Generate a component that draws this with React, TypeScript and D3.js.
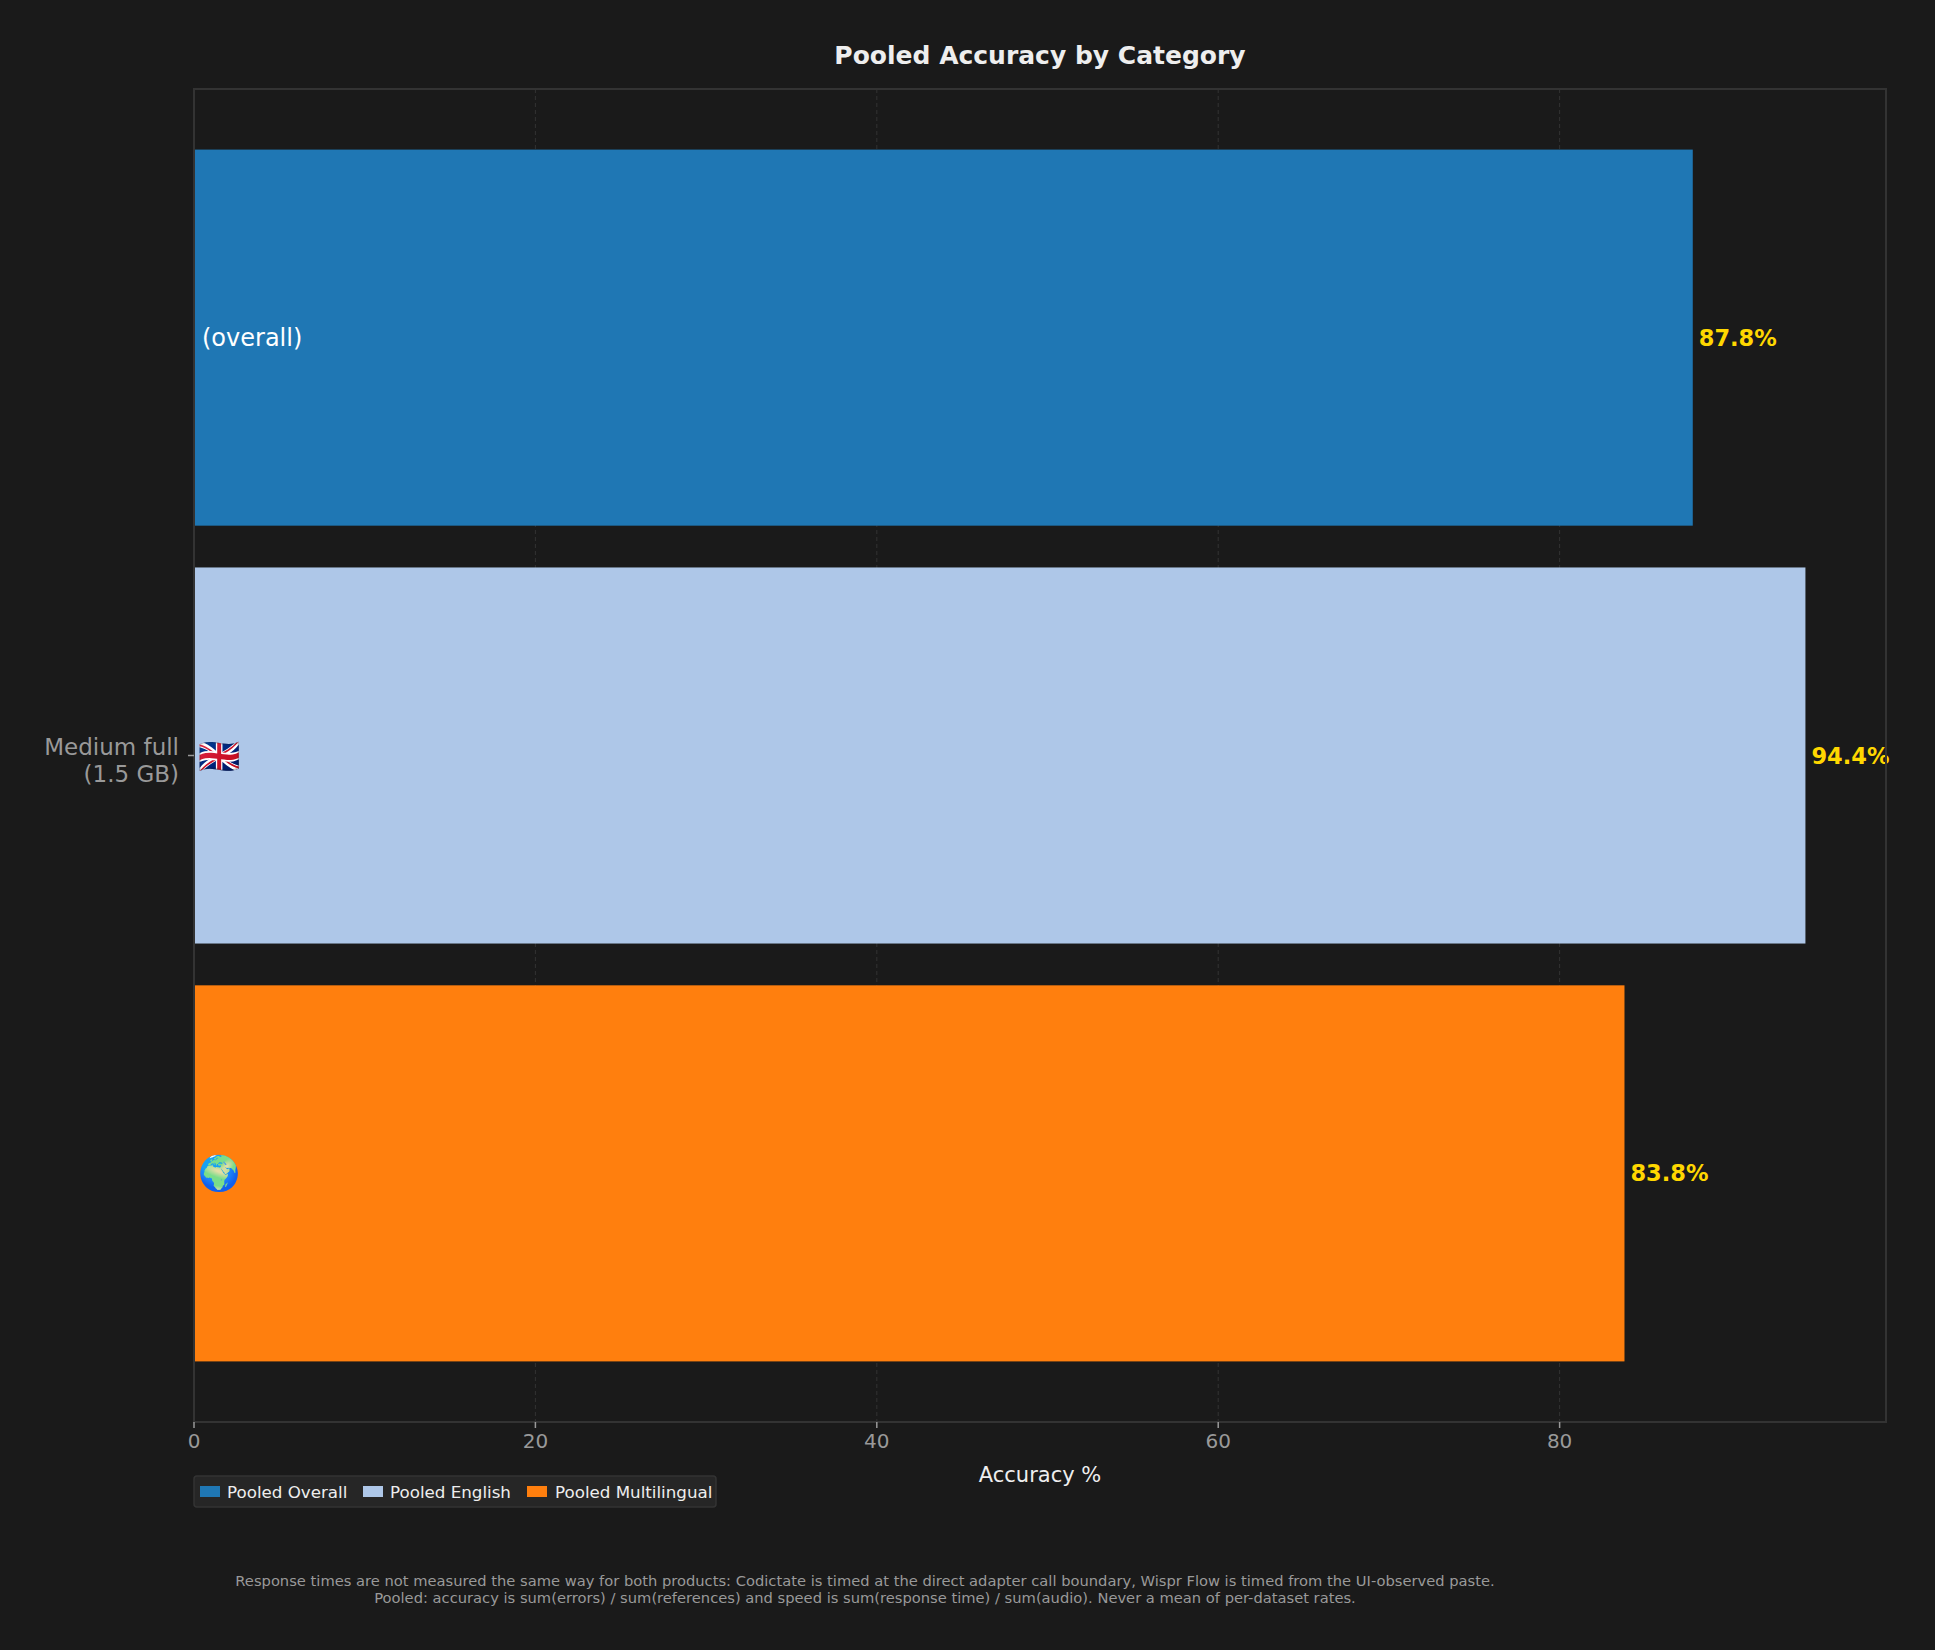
import { scaleLinear, scaleBand, max } from 'd3';

// chart data
const modelLabel = ['Medium full', '(1.5 GB)'];
const seriesNames = ['Pooled Overall', 'Pooled English', 'Pooled Multilingual'];
const seriesValues = [87.8, 94.4, 83.8];
const seriesColors = ['#1f77b4', '#aec7e8', '#ff7f0e'];
const inBarLabels = ['(overall)', '🇬🇧', '🌍'];
const xTicks = [0, 20, 40, 60, 80];
const footnotes = [
  'Response times are not measured the same way for both products: Codictate is timed at the direct adapter call boundary, Wispr Flow is timed from the UI-observed paste.',
  'Pooled: accuracy is sum(errors) / sum(references) and speed is sum(response time) / sum(audio). Never a mean of per-dataset rates.',
];

const W = 1935;
const H = 1650;
const margin = { top: 89, right: 49, bottom: 228, left: 194 };
const font = '"DejaVu Sans", Verdana, sans-serif';
const emojiFont = '"Noto Color Emoji", "Apple Color Emoji", "Segoe UI Emoji", ' + font;
const bg = '#1a1a1a';
const spine = '#333333';

export default function App() {
  const x = scaleLinear()
    .domain([0, (max(seriesValues) || 100) * 1.05])
    .range([margin.left, W - margin.right]);

  const y = scaleBand<string>()
    .domain(seriesNames)
    .range([margin.top, H - margin.bottom])
    .paddingInner(0.1)
    .paddingOuter(0.145);

  const top = margin.top;
  const bottom = H - margin.bottom;
  const left = margin.left;
  const right = W - margin.right;
  const midY = (top + bottom) / 2;
  const midX = (left + right) / 2;

  // legend layout
  const legendItems = [
    { x: 200, tx: 227 },
    { x: 363, tx: 390 },
    { x: 527, tx: 555 },
  ];

  return (
    <svg
      width={W}
      height={H}
      style={{ position: 'absolute', left: 0, top: 0, background: bg, fontFamily: font }}
    >
      <rect x={0} y={0} width={W} height={H} fill={bg} />

      <text x={midX} y={55} fill="#eeeeee" fontSize={25} fontWeight="bold" textAnchor="middle" dominantBaseline="central">
        Pooled Accuracy by Category
      </text>

      {/* grid */}
      {xTicks.map((t) => (
        <line key={'g' + t} x1={x(t)} x2={x(t)} y1={top} y2={bottom} stroke="#333333" strokeWidth={1} strokeDasharray="4,3" />
      ))}

      {/* bars */}
      {seriesNames.map((s, i) => (
        <rect key={s} x={x(0)} y={y(s)} width={x(seriesValues[i]) - x(0)} height={y.bandwidth()} fill={seriesColors[i]} />
      ))}

      {/* labels inside bars */}
      {seriesNames.map((s, i) => (
        <text
          key={'in' + s}
          x={x(0) + (i === 0 ? 8 : 4)}
          y={(y(s) || 0) + y.bandwidth() / 2}
          fill="#ffffff"
          fontSize={i === 0 ? 24 : 34}
          dominantBaseline="central"
          fontFamily={i === 0 ? font : emojiFont}
        >
          {inBarLabels[i]}
        </text>
      ))}

      {/* value labels */}
      {seriesNames.map((s, i) => (
        <text
          key={'v' + s}
          x={x(seriesValues[i]) + 6}
          y={(y(s) || 0) + y.bandwidth() / 2}
          fill="#ffd700"
          fontSize={22.5}
          fontWeight="bold"
          dominantBaseline="central"
        >
          {seriesValues[i].toFixed(1)}%
        </text>
      ))}

      {/* frame */}
      <rect x={left} y={top} width={right - left} height={bottom - top} fill="none" stroke={spine} strokeWidth={2} />

      {/* x axis ticks */}
      {xTicks.map((t) => (
        <g key={'t' + t}>
          <line x1={x(t)} x2={x(t)} y1={bottom} y2={bottom + 6} stroke="#999999" strokeWidth={1.5} />
          <text x={x(t)} y={bottom + 19} fill="#999999" fontSize={20} textAnchor="middle" dominantBaseline="central">
            {t}
          </text>
        </g>
      ))}
      <text x={midX} y={1475} fill="#eeeeee" fontSize={21} textAnchor="middle" dominantBaseline="central">
        Accuracy %
      </text>

      {/* y axis tick */}
      <line x1={left - 6} x2={left} y1={midY} y2={midY} stroke="#999999" strokeWidth={1.5} />
      {modelLabel.map((l, i) => (
        <text key={l} x={left - 15} y={midY - 9 + i * 27} fill="#999999" fontSize={23} textAnchor="end" dominantBaseline="central">
          {l}
        </text>
      ))}

      {/* legend */}
      <rect x={194} y={1476} width={522} height={31} rx={3} fill="#262626" stroke="#333333" strokeWidth={1.5} />
      {seriesNames.map((s, i) => (
        <g key={'l' + s}>
          <rect x={legendItems[i].x} y={1486} width={20} height={11} fill={seriesColors[i]} />
          <text x={legendItems[i].tx} y={1492} fill="#eeeeee" fontSize={16.7} dominantBaseline="central">
            {s}
          </text>
        </g>
      ))}

      {/* footnotes */}
      {footnotes.map((f, i) => (
        <text key={i} x={865} y={1580 + i * 17} fill="#999999" fontSize={14.7} textAnchor="middle" dominantBaseline="central">
          {f}
        </text>
      ))}
    </svg>
  );
}
